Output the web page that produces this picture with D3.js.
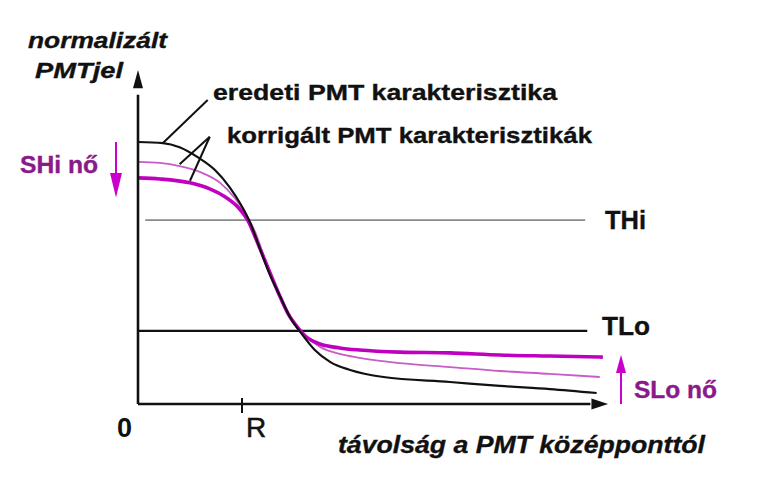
<!DOCTYPE html>
<html>
<head>
<meta charset="utf-8">
<script src="https://cdn.jsdelivr.net/npm/d3@7"></script>
<style>
  html, body { margin: 0; padding: 0; background: #fff; }
  svg { display: block; }
  text { font-family: "Liberation Sans", Arial, sans-serif; }
</style>
</head>
<body>
<svg id="chart" width="758" height="481"></svg>
<script>
// ---- data (x: distance from PMT centre in units of R, y: normalised PMT signal) ----
const origX = [0, 0.24, 0.40, 0.57, 0.74, 0.88, 0.98, 1.08, 1.17, 1.27, 1.37, 1.46, 1.56, 1.70, 1.85, 2.04, 2.36, 3.00, 3.48, 3.96, 4.41];
const origY = [1.00, 0.996, 0.980, 0.943, 0.893, 0.828, 0.767, 0.691, 0.595, 0.492, 0.408, 0.332, 0.275, 0.206, 0.160, 0.130, 0.103, 0.084, 0.069, 0.057, 0.042];

const corr1X = [0, 0.21, 0.40, 0.60, 0.79, 0.93, 1.03, 1.13, 1.22, 1.32, 1.41, 1.51, 1.61, 1.75, 1.94, 2.13, 2.52, 3.00, 3.48, 3.96, 4.44];
const corr1Y = [0.924, 0.920, 0.908, 0.885, 0.844, 0.786, 0.729, 0.653, 0.553, 0.454, 0.370, 0.305, 0.260, 0.218, 0.191, 0.176, 0.156, 0.141, 0.126, 0.115, 0.103];

const corr2X = [0, 0.21, 0.50, 0.69, 0.84, 0.96, 1.06, 1.15, 1.25, 1.35, 1.44, 1.54, 1.63, 1.75, 1.94, 2.13, 2.52, 3.00, 3.48, 3.96, 4.47];
const corr2Y = [0.863, 0.859, 0.844, 0.821, 0.790, 0.752, 0.698, 0.615, 0.519, 0.424, 0.347, 0.290, 0.252, 0.229, 0.214, 0.206, 0.198, 0.195, 0.187, 0.183, 0.179];

const thresholds = [
  { name: "THi", value: 0.702, x0: 0.07, x1: 4.3 },
  { name: "TLo", value: 0.279, x0: 0.0, x1: 4.32 }
];
const xTickLabels = [{ v: 0, label: "0" }, { v: 1, label: "R" }];
const yTitle = ["normalizált", "PMTjel"];
const xTitle = "távolság a PMT középponttól";
const annOrig = "eredeti PMT karakterisztika";
const annCorr = "korrigált PMT karakterisztikák";
const shiLabel = "SHi nő";
const sloLabel = "SLo nő";

// ---- scales ----
const svg = d3.select("#chart");
const x = d3.scaleLinear().domain([0, 4.5]).range([138, 606]);
const y = d3.scaleLinear().domain([0, 1]).range([404, 142]);

const line = d3.line().x(d => x(d[0])).y(d => y(d[1])).curve(d3.curveMonotoneX);
const zip = (a, b) => a.map((v, i) => [v, b[i]]);

// ---- threshold lines ----
svg.append("line")
  .attr("x1", x(thresholds[0].x0)).attr("x2", x(thresholds[0].x1))
  .attr("y1", y(thresholds[0].value)).attr("y2", y(thresholds[0].value))
  .attr("stroke", "#8a8a8a").attr("stroke-width", 1.6);
svg.append("line")
  .attr("x1", x(thresholds[1].x0)).attr("x2", x(thresholds[1].x1))
  .attr("y1", y(thresholds[1].value)).attr("y2", y(thresholds[1].value))
  .attr("stroke", "#111").attr("stroke-width", 2.2);

// ---- curves ----
svg.append("path").datum(zip(corr1X, corr1Y)).attr("d", line)
  .attr("fill", "none").attr("stroke", "#c85cc8").attr("stroke-width", 1.8);
svg.append("path").datum(zip(corr2X, corr2Y)).attr("d", line)
  .attr("fill", "none").attr("stroke", "#c000c0").attr("stroke-width", 3.6);
svg.append("path").datum(zip(origX, origY)).attr("d", line)
  .attr("fill", "none").attr("stroke", "#111").attr("stroke-width", 2.2);

// ---- axes ----
const axisG = svg.append("g");
axisG.append("line").attr("x1", x(0)).attr("x2", x(4.35)).attr("y1", y(0)).attr("y2", y(0))
  .attr("stroke", "#111").attr("stroke-width", 2.6);
axisG.append("path")
  .attr("d", `M${x(4.52)},${y(0)} L${x(4.36)},${y(0) - 5.5} L${x(4.36)},${y(0) + 5.5} Z`)
  .attr("fill", "#111");
axisG.append("line").attr("x1", x(0)).attr("x2", x(0)).attr("y1", y(0)).attr("y2", y(1.18))
  .attr("stroke", "#111").attr("stroke-width", 2.6);
axisG.append("path")
  .attr("d", `M${x(0)},${y(1.275)} L${x(0) - 5},${y(1.205)} L${x(0) + 5},${y(1.205)} Z`)
  .attr("fill", "#111");
axisG.append("line").attr("x1", x(1)).attr("x2", x(1)).attr("y1", y(0) - 6).attr("y2", y(0) + 9)
  .attr("stroke", "#111").attr("stroke-width", 2);

// tick labels
svg.append("text").attr("x", x(0) - 21).attr("y", 437).text(xTickLabels[0].label)
  .attr("font-size", 27).attr("font-weight", "bold").attr("fill", "#111");
svg.append("text").attr("x", x(1) + 4).attr("y", 437).text(xTickLabels[1].label)
  .attr("font-size", 28).attr("fill", "#111").attr("stroke", "#111").attr("stroke-width", 0.5);

// text helper for heavy bold labels
function label(tx, ty, str, size, len, opts = {}) {
  const t = svg.append("text").attr("x", tx).attr("y", ty).text(str)
    .attr("font-size", size).attr("font-weight", "bold")
    .attr("fill", opts.fill || "#111")
    .attr("stroke", opts.fill || "#111").attr("stroke-width", 0.35);
  if (opts.italic) t.attr("font-style", "italic");
  if (len) t.attr("textLength", len).attr("lengthAdjust", "spacingAndGlyphs");
  return t;
}

label(28, 48, yTitle[0], 22, 139, { italic: true });
label(35, 78, yTitle[1], 22, 88, { italic: true });
label(338, 453, xTitle, 24, 367, { italic: true });

label(605, 229, thresholds[0].name, 25, 41);
label(602, 335, thresholds[1].name, 25, 48);

label(213, 100, annOrig, 22, 344);
label(227, 143, annCorr, 22, 365);

const ptr = svg.append("g").attr("stroke", "#111").attr("stroke-width", 2).attr("fill", "none");
ptr.append("line").attr("x1", x(0.24)).attr("y1", y(0.996)).attr("x2", x(0.67)).attr("y2", y(1.16));
ptr.append("line").attr("x1", x(0.69)).attr("y1", y(1.02)).attr("x2", x(0.40)).attr("y2", y(0.915));
ptr.append("line").attr("x1", x(0.69)).attr("y1", y(1.02)).attr("x2", x(0.50)).attr("y2", y(0.852));

// SHi / SLo arrows
const mag = "#cc00cc";
const shiX = 116, sloX = 621;
svg.append("line").attr("x1", shiX).attr("x2", shiX).attr("y1", y(1.0)).attr("y2", y(0.87))
  .attr("stroke", mag).attr("stroke-width", 2);
svg.append("path").attr("d", `M${shiX},${y(0.788)} L${shiX - 6},${y(0.882)} L${shiX + 6},${y(0.882)} Z`)
  .attr("fill", mag);
label(20, 173, shiLabel, 23, 78, { fill: "#8a1a8a" });

svg.append("line").attr("x1", sloX).attr("x2", sloX).attr("y1", y(0)).attr("y2", y(0.13))
  .attr("stroke", mag).attr("stroke-width", 2);
svg.append("path").attr("d", `M${sloX},${y(0.188)} L${sloX - 5},${y(0.118)} L${sloX + 5},${y(0.118)} Z`)
  .attr("fill", mag);
label(634, 398, sloLabel, 23, 83, { fill: "#8a1a8a" });
</script>
</body>
</html>
